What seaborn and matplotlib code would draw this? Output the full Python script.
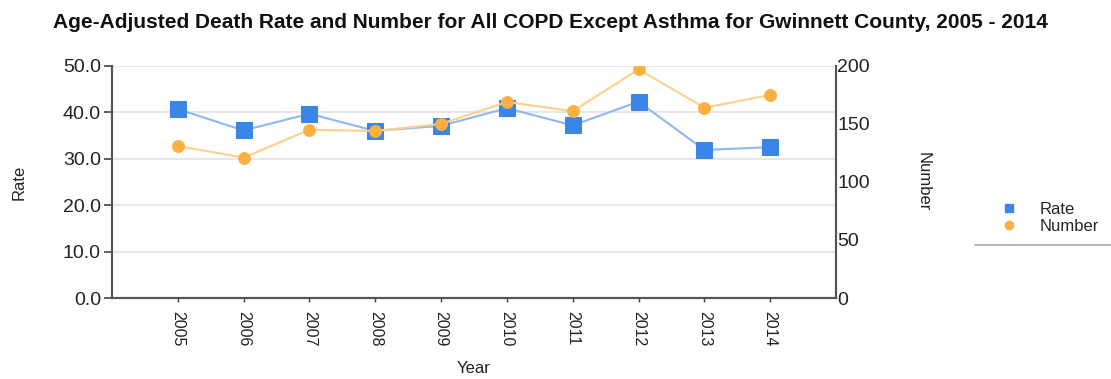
import matplotlib
matplotlib.use("Agg")
import matplotlib.pyplot as plt
from matplotlib.lines import Line2D
import seaborn as sns
import pandas as pd

years = ["2005", "2006", "2007", "2008", "2009", "2010", "2011", "2012", "2013", "2014"]
rate = [40.7, 36.1, 39.7, 36.0, 37.1, 40.9, 37.2, 42.3, 31.9, 32.5]
number = [131, 121, 145, 144, 150, 169, 161, 197, 164, 175]

sns.set_theme(style="white")
plt.rcParams["font.family"] = ["Liberation Sans", "DejaVu Sans"]

df = pd.DataFrame({"Year": years, "Rate": rate, "Number": number})
df["pos"] = range(len(years))

fig = plt.figure(figsize=(11.11, 3.79), dpi=100)
ax = fig.add_axes([0.1008, 0.2137, 0.6517, 0.6123])
ax2 = ax.twinx()

blue = "#3a86e8"
blue_line = "#8fb8f0"
orange = "#fbb040"
orange_line = "#fdd08c"

sns.lineplot(data=df, x="pos", y="Rate", ax=ax, color=blue_line, linewidth=1.5,
             marker="s", markersize=12, markerfacecolor=blue, markeredgecolor=blue)
sns.lineplot(data=df, x="pos", y="Number", ax=ax2, color=orange_line, linewidth=1.5,
             marker="o", markersize=8.5, markerfacecolor=orange, markeredgecolor=orange)

ax.set_xlim(-1, len(years))
ax.set_ylim(0, 50)
ax2.set_ylim(0, 200)
ax.set_yticks([0, 10, 20, 30, 40, 50])
ax.set_yticklabels([f"{v:.1f}" for v in [0, 10, 20, 30, 40, 50]], fontsize=14, color="#222222")
ax2.set_yticks([0, 50, 100, 150, 200])
ax2.set_yticklabels(["0", "50", "100", "150", "200"], fontsize=14, color="#222222")
ax.set_xticks(range(len(years)))
ax.set_xticklabels(years, rotation=-90, fontsize=11.5, color="#222222")

ax.yaxis.grid(True, color="#e3e3e3", linewidth=1.2)
ax.tick_params(axis="y", direction="out", length=6, width=1.2, color="#444444", left=True, pad=2)
ax.tick_params(axis="x", direction="out", length=3, width=1, color="#444444", bottom=True, pad=6)
ax2.tick_params(axis="y", length=0, pad=1)

for a in (ax, ax2):
    a.spines["top"].set_visible(False)
    for s in ("left", "right", "bottom"):
        a.spines[s].set_color("#555555")
        a.spines[s].set_linewidth(1.5)

ax.set_xlabel("Year", fontsize=12, color="#222222", va="center")
ax.xaxis.set_label_coords(0.5, -0.305)
ax.set_ylabel("Rate", fontsize=12, color="#222222", va="center")
ax.yaxis.set_label_coords(-0.128, 0.5)
ax2.set_ylabel("Number", fontsize=12, color="#222222", rotation=-90, va="center")
ax2.yaxis.set_label_coords(1.12, 0.5)

fig.suptitle("Age-Adjusted Death Rate and Number for All COPD Except Asthma for Gwinnett County, 2005 - 2014",
             x=0.495, y=0.965, fontsize=15, fontweight="bold", color="#111111")

handles = [Line2D([], [], linestyle="none", marker="s", markersize=6, color=blue),
           Line2D([], [], linestyle="none", marker="o", markersize=6, color=orange)]
fig.legend(handles, ["Rate", "Number"], loc="center left", bbox_to_anchor=(0.88, 0.425),
           frameon=False, fontsize=12, handletextpad=0.8, labelspacing=0.15)
fig.add_artist(Line2D([0.878, 1.0], [0.353, 0.353], color="#bbbbbb", linewidth=1.5,
                      transform=fig.transFigure))

fig.savefig("out.png", dpi=100)
